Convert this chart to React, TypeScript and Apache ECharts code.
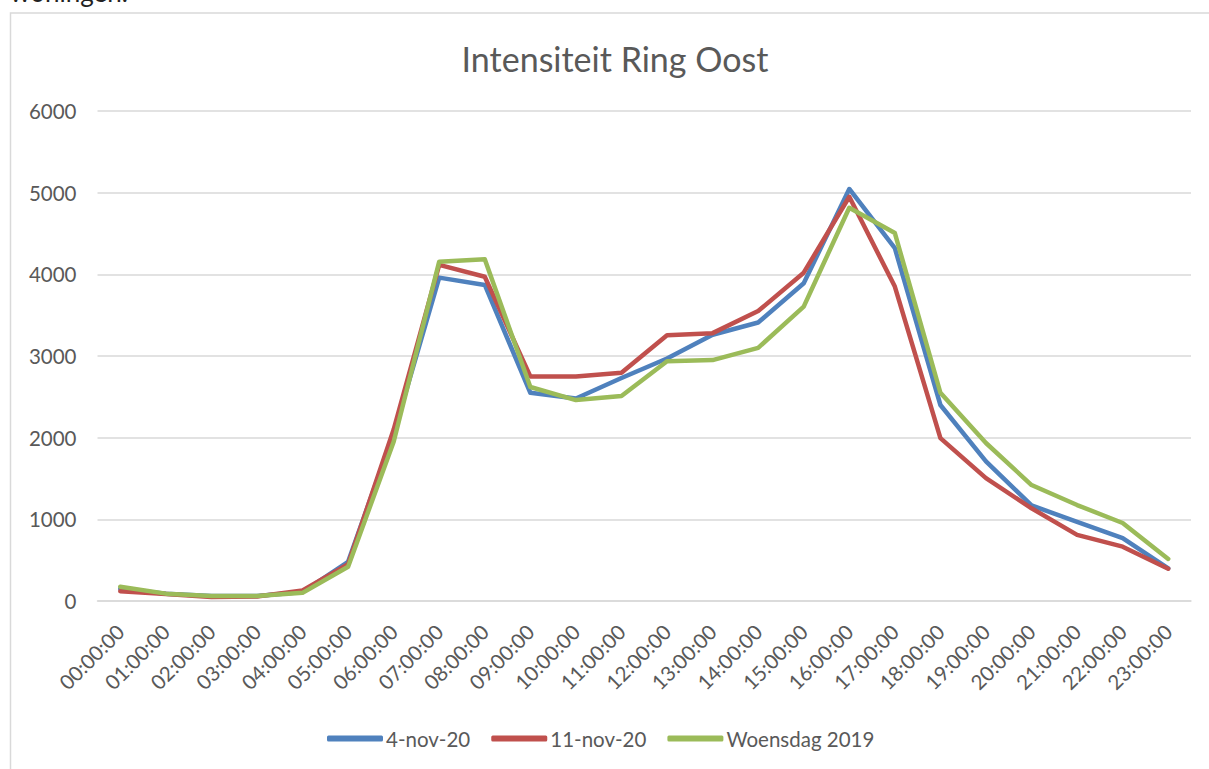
import React, { useEffect, useRef } from "react";
import * as echarts from "echarts";

const categories = [
  "00:00:00", "01:00:00", "02:00:00", "03:00:00", "04:00:00", "05:00:00",
  "06:00:00", "07:00:00", "08:00:00", "09:00:00", "10:00:00", "11:00:00",
  "12:00:00", "13:00:00", "14:00:00", "15:00:00", "16:00:00", "17:00:00",
  "18:00:00", "19:00:00", "20:00:00", "21:00:00", "22:00:00", "23:00:00",
];

const nov4 = [150, 90, 60, 60, 110, 480, 2050, 3960, 3870, 2550, 2480, 2730, 2970, 3260, 3410, 3890, 5045, 4320, 2400, 1710, 1170, 970, 770, 400];
const nov11 = [120, 85, 50, 55, 130, 450, 2100, 4115, 3970, 2750, 2750, 2795, 3255, 3280, 3550, 4020, 4950, 3850, 1995, 1505, 1135, 810, 665, 395];
const woensdag2019 = [175, 90, 60, 60, 100, 420, 1950, 4155, 4185, 2620, 2460, 2510, 2935, 2950, 3100, 3605, 4815, 4505, 2550, 1935, 1420, 1175, 955, 515];

const seriesNames = ["4-nov-20", "11-nov-20", "Woensdag 2019"];
const colors = ["#4F81BD", "#C0504D", "#9BBB59"];

const FONT = "Lato, 'Open Sans', sans-serif";
const TEXT = "#595959";

export default function App() {
  const ref = useRef<HTMLDivElement>(null);

  useEffect(() => {
    if (!ref.current) return;
    const chart = echarts.init(ref.current, null, { renderer: "svg" });
    const data = [nov4, nov11, woensdag2019];
    chart.setOption({
      animation: false,
      backgroundColor: "#ffffff",
      textStyle: { fontFamily: FONT },
      title: {
        text: "Intensiteit Ring Oost",
        left: 610,
        textAlign: "center",
        top: 36,
        textStyle: { fontFamily: FONT, fontSize: 34, fontWeight: "normal", color: TEXT },
      },
      graphic: [
        {
          type: "rect",
          shape: { x: 10.5, y: 13, width: 1260, height: 800 },
          style: { fill: "none", stroke: "#D9D9D9", lineWidth: 1.5 },
          silent: true,
        },
        {
          type: "text",
          x: 10,
          y: 5,
          style: {
            text: "woningen.",
            fontFamily: FONT,
            fontSize: 26,
            fill: "#222222",
            verticalAlign: "bottom",
          },
        },
      ],
      legend: {
        left: 322,
        top: 723,
        itemWidth: 56,
        itemHeight: 6,
        itemGap: 21,
        icon: "roundRect",
        textStyle: { fontFamily: FONT, fontSize: 20.5, color: TEXT, padding: [0, 0, 0, -2] },
        data: seriesNames,
      },
      grid: { left: 97.5, right: 18, top: 111, bottom: 168, containLabel: false },
      xAxis: {
        type: "category",
        data: categories,
        boundaryGap: true,
        axisLine: { lineStyle: { color: "#D9D9D9", width: 1.5 } },
        axisTick: { show: false },
        axisLabel: {
          rotate: 45,
          interval: 0,
          margin: 27,
          color: TEXT,
          fontFamily: FONT,
          fontSize: 20.5,
        },
      },
      yAxis: {
        type: "value",
        min: 0,
        max: 6000,
        interval: 1000,
        axisLine: { show: false },
        axisTick: { show: false },
        splitLine: { lineStyle: { color: "#D9D9D9", width: 1.5 } },
        axisLabel: {
          color: TEXT,
          fontFamily: FONT,
          fontSize: 20.5,
          margin: 21,
          formatter: (v: number) => String(v),
        },
      },
      series: seriesNames.map((name, i) => ({
        name,
        type: "line",
        data: data[i],
        symbol: "none",
        smooth: false,
        color: colors[i],
        lineStyle: { width: 4.5, color: colors[i], cap: "round", join: "round" },
        itemStyle: { color: colors[i] },
      })),
    });
    return () => chart.dispose();
  }, []);

  return (
    <div
      ref={ref}
      style={{ position: "absolute", left: 0, top: 0, width: 1209, height: 769 }}
    />
  );
}
